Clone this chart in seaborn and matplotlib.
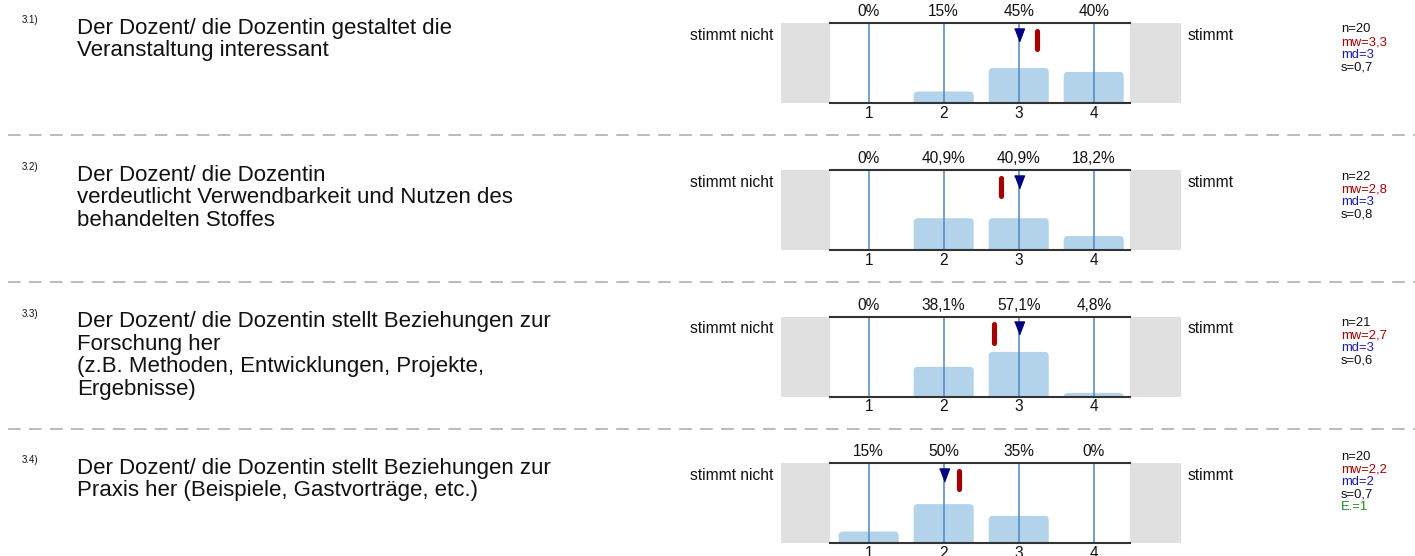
import numpy as np
import pandas as pd
import matplotlib
matplotlib.use("Agg")
import matplotlib.pyplot as plt
import matplotlib.transforms as mtransforms
from matplotlib.patches import FancyBboxPatch, Rectangle
import seaborn as sns

# ---------------- data ----------------
question_ids = ["3.1)", "3.2)", "3.3)", "3.4)"]
question_lines = [
    ["Der Dozent/ die Dozentin gestaltet die", "Veranstaltung interessant"],
    ["Der Dozent/ die Dozentin", "verdeutlicht Verwendbarkeit und Nutzen des", "behandelten Stoffes"],
    ["Der Dozent/ die Dozentin stellt Beziehungen zur", "Forschung her",
     "(z.B. Methoden, Entwicklungen, Projekte,", "Ergebnisse)"],
    ["Der Dozent/ die Dozentin stellt Beziehungen zur", "Praxis her (Beispiele, Gastvorträge, etc.)"],
]
scale_points = [1, 2, 3, 4]
tick_labels = ["1", "2", "3", "4"]
pct_q1 = [0, 15, 45, 40]
pct_q2 = [0, 40.9, 40.9, 18.2]
pct_q3 = [0, 38.1, 57.1, 4.8]
pct_q4 = [15, 50, 35, 0]
percentages = [pct_q1, pct_q2, pct_q3, pct_q4]
means = [3.25, 2.77, 2.67, 2.2]
medians = [3, 3, 3, 2]
n_vals = [20, 22, 21, 20]
mw_labels = ["3,3", "2,8", "2,7", "2,2"]
sd_labels = ["0,7", "0,8", "0,6", "0,7"]
abstentions = [None, None, None, 1]
left_label = "stimmt nicht"
right_label = "stimmt"

# ---------------- style ----------------
sns.set_theme(style="white")
plt.rcParams["font.family"] = ["Liberation Sans", "DejaVu Sans"]
plt.rcParams["lines.scale_dashes"] = False

W, H = 1415, 556
fig = plt.figure(figsize=(W / 100, H / 100), dpi=100)
fig.patch.set_facecolor("white")

bg = fig.add_axes([0, 0, 1, 1])
bg.set_xlim(0, W)
bg.set_ylim(H, 0)
bg.axis("off")

BAR_COLOR = "#b3d3eb"
LINE_COLOR = "#4d88c4"
GRAY_BOX = "#e0e0e0"
MEAN_COLOR = "#a50000"
MED_COLOR = "#000080"

row_tops = [23.3, 170.3, 316.7, 463.3]
AX_L, AX_W, AX_H = 830, 300, 80
XMIN, XMAX = 0.484, 4.484
YMAX = 1.02
px_x = AX_W / (XMAX - XMIN)   # px per x unit
px_y = AX_H / YMAX            # px per y unit

tri_marker = [(-0.38, 0.5), (0.38, 0.5), (0.0, -0.5)]

def fmt_pct(v):
    s = f"{v:g}".replace(".", ",")
    return s + "%"

for i, top in enumerate(row_tops):
    ax = fig.add_axes([AX_L / W, 1 - (top + AX_H) / H, AX_W / W, AX_H / H])
    df = pd.DataFrame({"scale": scale_points,
                       "share": [p / 100 for p in percentages[i]]})
    sns.barplot(data=df, x="scale", y="share", native_scale=True, width=0.8,
                color=BAR_COLOR, saturation=1, ax=ax, errorbar=None)
    # rounded tops
    rx = 4 / px_x
    ry = 4 / px_y
    for p in list(ax.patches):
        x0, w, h = p.get_x(), p.get_width(), p.get_height()
        p.remove()
        if h <= 0:
            continue
        ext = ry * 1.4
        fb = FancyBboxPatch((x0, -ext), w, h + ext,
                            boxstyle=f"round,pad=0,rounding_size={rx}",
                            mutation_aspect=ry / rx,
                            facecolor=BAR_COLOR, edgecolor="none", zorder=2)
        ax.add_patch(fb)
    ax.set_xlim(XMIN, XMAX)
    ax.set_ylim(0, YMAX)
    ax.vlines(scale_points, 0, YMAX, color=LINE_COLOR, lw=1.1, zorder=3)

    for side in ["left", "right"]:
        ax.spines[side].set_visible(False)
    for side in ["top", "bottom"]:
        ax.spines[side].set_visible(True)
        ax.spines[side].set_color("#333333")
        ax.spines[side].set_linewidth(1.5)
        ax.spines[side].set_zorder(6)

    ax.set_yticks([])
    ax.set_xticks(scale_points, labels=tick_labels)
    ax.tick_params(axis="x", length=0, pad=2, labelsize=11.2, colors="#111111")
    ax.set_xlabel("")
    ax.set_ylabel("")

    # grey end boxes
    ax.add_patch(Rectangle((-49 / AX_W, 0), 49 / AX_W, 1, transform=ax.transAxes,
                           facecolor=GRAY_BOX, edgecolor="none", clip_on=False, zorder=0))
    ax.add_patch(Rectangle((1, 0), 51.5 / AX_W, 1, transform=ax.transAxes,
                           facecolor=GRAY_BOX, edgecolor="none", clip_on=False, zorder=0))

    # percentage labels
    trans = mtransforms.blended_transform_factory(ax.transData, ax.transAxes)
    for xv, pv in zip(scale_points, percentages[i]):
        ax.text(xv, 1 + 11.5 / AX_H, fmt_pct(pv), transform=trans,
                ha="center", va="center", fontsize=11.2, color="#111111", clip_on=False)

    # median triangle
    ax.plot([medians[i]], [YMAX - 11.3 / px_y], marker=tri_marker, ms=9.4,
            color=MED_COLOR, mec=MED_COLOR, ls="none", zorder=7, clip_on=False)
    # mean bar
    ax.plot([means[i], means[i]], [YMAX - 7.6 / px_y, YMAX - 25.8 / px_y],
            color=MEAN_COLOR, lw=3.7, solid_capstyle="round", zorder=7)

    # left texts
    bg.text(22, top - 3, question_ids[i], fontsize=7, ha="left", va="center", color="#111111")
    for k, line in enumerate(question_lines[i]):
        bg.text(77, top + 5 + k * 22.5, line, fontsize=16, ha="left", va="center",
                color="#111111")

    bg.text(773, top + 12, left_label, fontsize=11.2, ha="right", va="center", color="#111111")
    bg.text(1188, top + 12, right_label, fontsize=11.2, ha="left", va="center", color="#111111")

    stats = [(f"n={n_vals[i]}", "#111111"), (f"mw={mw_labels[i]}", "#a00000"),
             (f"md={medians[i]}", "#1a1aa6"), (f"s={sd_labels[i]}", "#111111")]
    if abstentions[i] is not None:
        stats.append((f"E.={abstentions[i]}", "#1e8c1e"))
    nlines = len(stats)
    for k, (txt, col) in enumerate(stats):
        y = top + 44 - (nlines - 1 - k) * 12.6
        bg.text(1341, y, txt, fontsize=9.4, ha="left", va="center", color=col)

# dashed separators
for top in row_tops[:-1]:
    y = top + 111.8
    bg.plot([8.3, W], [y, y], color="#a8a8a8", lw=1.1, dashes=(9.1, 6.0))

fig.savefig("out.png", dpi=100, facecolor="white")
